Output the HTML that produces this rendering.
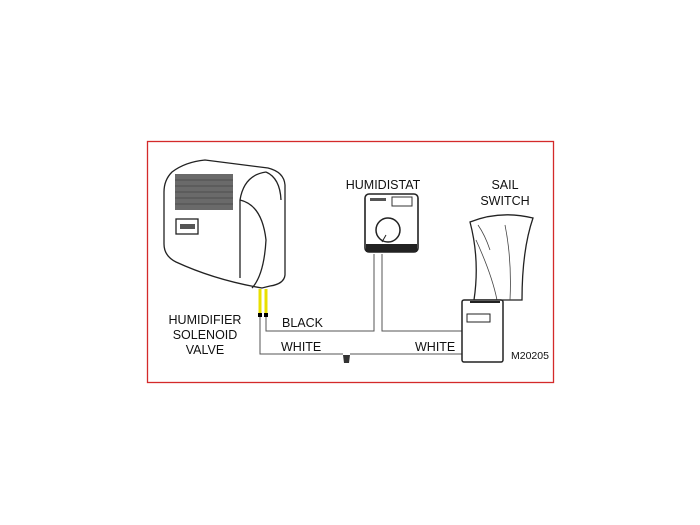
<!DOCTYPE html>
<html><head><style>
html,body{margin:0;padding:0;background:#fff;}
svg{display:block}
text{font-family:"Liberation Sans",sans-serif;font-size:12.5px;fill:#111}
</style></head><body>
<svg width="700" height="525" viewBox="0 0 700 525">
<rect x="147.5" y="141.5" width="406" height="241" fill="#fff" stroke="#d42a2a" stroke-width="1.3"/>
<!-- humidifier -->
<g stroke="#222" stroke-width="1.3" fill="#fff">
<path d="M172,172 Q185,162 205,160 L268,168 Q284,172 285,185 L285,275 Q284,284 270,286 L262,288 Q215,280 176,262 Q164,256 164,244 L164,192 Q164,180 172,172 Z"/>
<path d="M266,172 Q244,175 240,200 L240,278" fill="none"/>
<path d="M240,200 Q262,205 266,240 Q264,275 252,288" fill="none"/>
<path d="M266,172 Q280,178 281,200" fill="none"/>
</g>
<rect x="175" y="174" width="58" height="36" fill="#6a6a6a"/>
<g stroke="#444" stroke-width="0.8">
<line x1="175" y1="180" x2="233" y2="180"/><line x1="175" y1="186" x2="233" y2="186"/>
<line x1="175" y1="192" x2="233" y2="192"/><line x1="175" y1="198" x2="233" y2="198"/>
<line x1="175" y1="204" x2="233" y2="204"/>
</g>
<rect x="176" y="219" width="22" height="15" fill="#fff" stroke="#222" stroke-width="1.3"/>
<rect x="180" y="224" width="15" height="5" fill="#555"/>
<!-- yellow wires -->
<line x1="260" y1="289" x2="260" y2="315" stroke="#e8e000" stroke-width="3"/>
<line x1="266" y1="289" x2="266" y2="315" stroke="#e8e000" stroke-width="3"/>
<rect x="258" y="313" width="4" height="4" fill="#000"/>
<rect x="264" y="313" width="4" height="4" fill="#000"/>
<!-- wires -->
<g fill="none" stroke="#555" stroke-width="1">
<polyline points="266,317 266,331 374,331 374,254"/>
<polyline points="382,254 382,331 462,331"/>
<polyline points="260,317 260,354 343,354"/>
<polyline points="350,354 462,354"/>
</g>
<path d="M343,355 L350,355 L349,363 L344,363 Z" fill="#333"/>
<!-- humidistat -->
<rect x="365" y="194" width="53" height="58" rx="4" fill="#fff" stroke="#222" stroke-width="1.6"/>
<rect x="366" y="244" width="51" height="8" fill="#222"/>
<rect x="392" y="197" width="20" height="9" fill="#fff" stroke="#333"/>
<rect x="370" y="198" width="16" height="3" fill="#555"/>
<circle cx="388" cy="230" r="12" fill="#fff" stroke="#222" stroke-width="1.5"/>
<line x1="386" y1="235" x2="382" y2="242" stroke="#222"/>
<!-- sail -->
<path d="M470,222 Q500,210 533,218 Q522,250 522,300 L474,300 Q480,260 470,222 Z" fill="#fff" stroke="#222" stroke-width="1.3"/>
<path d="M478,225 Q485,235 490,250 M476,240 Q492,275 497,300 M505,225 Q512,260 510,300" fill="none" stroke="#444" stroke-width="0.8"/>
<rect x="462" y="300" width="41" height="62" rx="2" fill="#fff" stroke="#222" stroke-width="1.5"/>
<rect x="467" y="314" width="23" height="8" fill="#fff" stroke="#222"/>
<line x1="470" y1="302" x2="500" y2="302" stroke="#222" stroke-width="2"/>
<!-- text -->
<text x="383" y="189" text-anchor="middle">HUMIDISTAT</text>
<text x="505" y="189" text-anchor="middle">SAIL</text>
<text x="505" y="205" text-anchor="middle">SWITCH</text>
<text x="205" y="324" text-anchor="middle">HUMIDIFIER</text>
<text x="205" y="339" text-anchor="middle">SOLENOID</text>
<text x="205" y="354" text-anchor="middle">VALVE</text>
<text x="282" y="327">BLACK</text>
<text x="281" y="351">WHITE</text>
<text x="415" y="351">WHITE</text>
<text x="511" y="359" style="font-size:10.5px">M20205</text>
</svg>
</body></html>
